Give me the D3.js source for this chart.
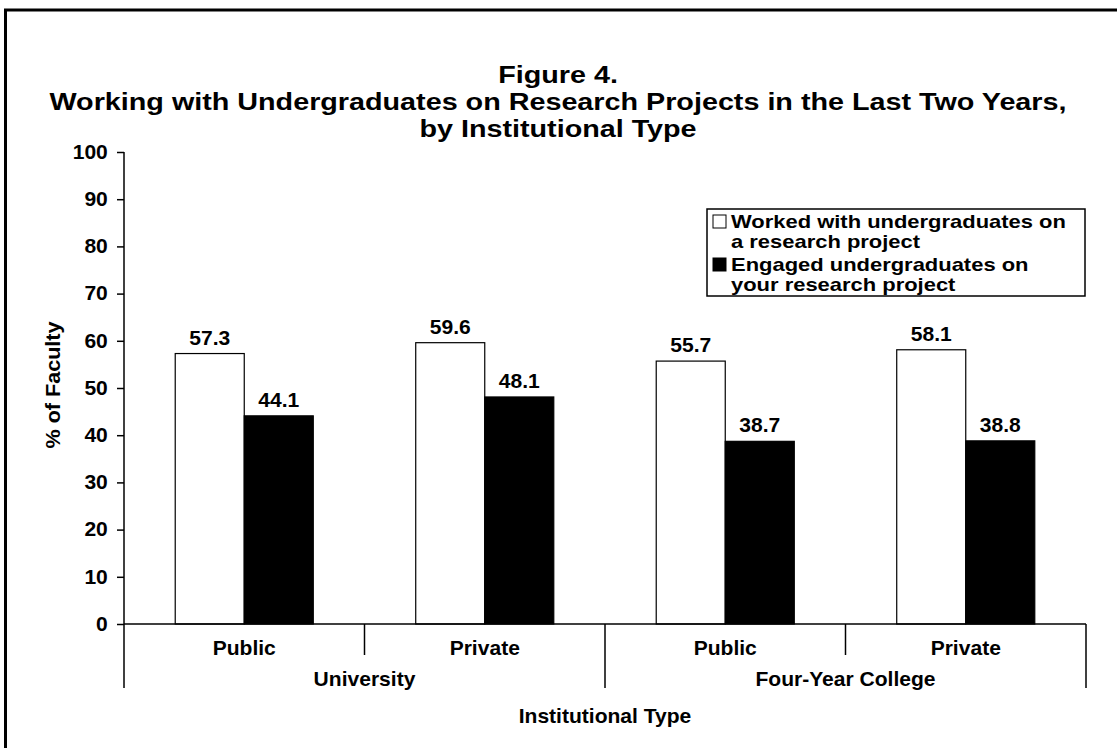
<!DOCTYPE html>
<html>
<head>
<meta charset="utf-8">
<script src="https://cdn.jsdelivr.net/npm/d3@7"></script>
<style>
  html, body { margin: 0; padding: 0; background: #fff; }
  svg { display: block; }
  text { font-family: "Liberation Sans", Arial, Helvetica, sans-serif; font-weight: bold; fill: #000; }
</style>
</head>
<body>
<svg id="chart" width="1117" height="748"></svg>
<script>
// ---- data ----
const categories = ["Public", "Private", "Public", "Private"];
const groups = ["University", "Four-Year College"];
const categoryGroup = [0, 0, 1, 1];
const seriesNames = [
  ["Worked with undergraduates on", "a research project"],
  ["Engaged undergraduates on", "your research project"]
];
const workedWith = [57.3, 59.6, 55.7, 58.1];
const engaged = [44.1, 48.1, 38.7, 38.8];
const yTicks = [0, 10, 20, 30, 40, 50, 60, 70, 80, 90, 100];
const titleLines = [
  "Figure 4.",
  "Working with Undergraduates on Research Projects in the Last Two Years,",
  "by Institutional Type"
];
const yTitle = "% of Faculty";
const xTitle = "Institutional Type";

// ---- layout ----
const svg = d3.select("#chart");
const SX = 1.08;
const plot = { left: 124, right: 1086, top: 152, bottom: 624 };

function label(g, x, y, str, size, anchor, sx) {
  return g.append("text")
    .attr("transform", `translate(${x},${y}) scale(${sx || SX},1)`)
    .attr("text-anchor", anchor || "middle")
    .style("font-size", size + "px")
    .text(str);
}

// frame
svg.append("line").attr("x1", 4).attr("x2", 1117).attr("y1", 10).attr("y2", 10)
  .attr("stroke", "#000").attr("stroke-width", 3);
svg.append("line").attr("x1", 5.5).attr("x2", 5.5).attr("y1", 9).attr("y2", 748)
  .attr("stroke", "#000").attr("stroke-width", 3);

// title
const titleY = [83, 110, 137];
titleLines.forEach((t, i) => label(svg, 558, titleY[i], t, 23, "middle", 1.25));

// scales
const idx = d3.range(categories.length);
const x0 = d3.scaleBand().domain(idx).range([plot.left, plot.right]).padding(0);
const bw = x0.bandwidth();
const x1 = d3.scaleBand().domain([0, 1]).range([bw * 0.213, bw * 0.787]).padding(0);
const y = d3.scaleLinear().domain([0, 100]).range([plot.bottom, plot.top]);

// y axis
const yAxis = svg.append("g")
  .attr("transform", `translate(${plot.left},0)`)
  .call(d3.axisLeft(y).tickValues(yTicks).tickSize(7).tickPadding(8).tickFormat(d3.format("d")));
yAxis.select(".domain").remove();
yAxis.selectAll(".tick line").attr("stroke", "#000").attr("stroke-width", 1.5);
yAxis.selectAll(".tick text")
  .style("font-size", "19.5px")
  .attr("font-family", null)
  .attr("transform", `scale(${SX},1)`);
// vertical axis line extends below into the category area
svg.append("line").attr("x1", plot.left).attr("x2", plot.left)
  .attr("y1", plot.top).attr("y2", 688).attr("stroke", "#000").attr("stroke-width", 1.5);

// bars
const data = [];
idx.forEach(i => {
  data.push({ c: i, s: 0, v: workedWith[i] });
  data.push({ c: i, s: 1, v: engaged[i] });
});
svg.append("g").selectAll("rect").data(data).join("rect")
  .attr("x", d => x0(d.c) + x1(d.s))
  .attr("y", d => y(d.v))
  .attr("width", x1.bandwidth())
  .attr("height", d => y(0) - y(d.v))
  .attr("fill", d => d.s === 0 ? "#fff" : "#000")
  .attr("stroke", "#000")
  .attr("stroke-width", 1.2);

// value labels
const vl = svg.append("g");
data.forEach(d => {
  label(vl, x0(d.c) + x1(d.s) + x1.bandwidth() / 2, y(d.v) - 9, d.v.toFixed(1), 19.5);
});

// x axis baseline
svg.append("line").attr("x1", plot.left).attr("x2", plot.right)
  .attr("y1", plot.bottom).attr("y2", plot.bottom)
  .attr("stroke", "#000").attr("stroke-width", 1.5);

// category separators and labels
const xa = svg.append("g");
idx.forEach(i => {
  const xe = x0(i) + bw;
  const major = (i === categories.length - 1) || categoryGroup[i] !== categoryGroup[i + 1];
  xa.append("line").attr("x1", xe).attr("x2", xe)
    .attr("y1", plot.bottom).attr("y2", major ? 688 : 655)
    .attr("stroke", "#000").attr("stroke-width", 1.5);
  label(xa, x0(i) + bw / 2, 655, categories[i], 19.5);
});
groups.forEach((g, gi) => {
  const members = idx.filter(i => categoryGroup[i] === gi);
  const gx0 = x0(members[0]);
  const gx1 = x0(members[members.length - 1]) + bw;
  label(xa, (gx0 + gx1) / 2, 686, g, 19.5);
});

// axis titles
label(svg, (plot.left + plot.right) / 2, 723, xTitle, 19.5);
svg.append("text")
  .attr("transform", `translate(60,385) rotate(-90) scale(${SX},1)`)
  .attr("text-anchor", "middle")
  .style("font-size", "20px")
  .text(yTitle);

// legend
const lg = svg.append("g");
lg.append("rect").attr("x", 707).attr("y", 209).attr("width", 378).attr("height", 87)
  .attr("fill", "#fff").attr("stroke", "#000").attr("stroke-width", 1.5);
const legBase = [[228, 248], [271, 291]];
seriesNames.forEach((lines, s) => {
  lg.append("rect").attr("x", 713).attr("y", legBase[s][0] - 13)
    .attr("width", 13).attr("height", 13)
    .attr("fill", s === 0 ? "#fff" : "#000").attr("stroke", "#000").attr("stroke-width", 1);
  lines.forEach((t, li) => label(lg, 731, legBase[s][li], t, 18, "start", 1.22));
});
</script>
</body>
</html>
